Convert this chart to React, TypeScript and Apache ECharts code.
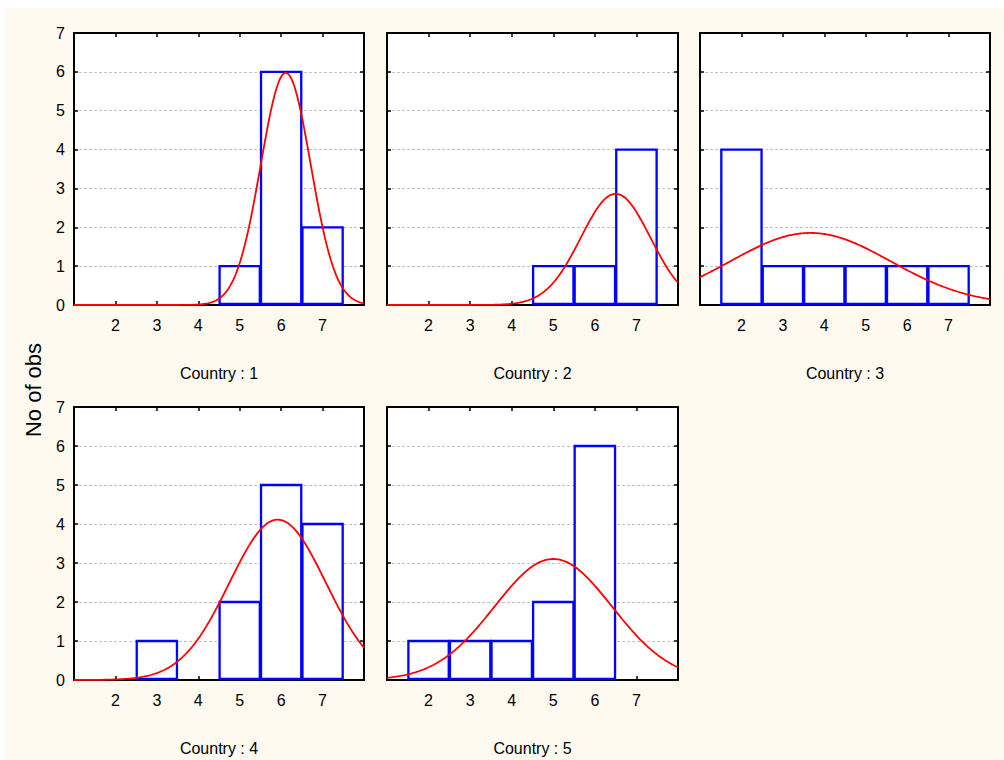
import React, { useEffect, useRef } from "react";
import * as echarts from "echarts";

// Histogram bins (class midpoints) shared by every panel
const bins = [2, 3, 4, 5, 6, 7];

// Observed counts per bin, one list per country
const country1 = [0, 0, 0, 1, 6, 2];
const country2 = [0, 0, 0, 1, 1, 4];
const country3 = [4, 1, 1, 1, 1, 1];
const country4 = [0, 1, 0, 2, 5, 4];
const country5 = [1, 1, 1, 2, 6, 0];

const panelTitles = ["Country : 1", "Country : 2", "Country : 3", "Country : 4", "Country : 5"];
const panelCounts = [country1, country2, country3, country4, country5];

const yTicks = [0, 1, 2, 3, 4, 5, 6, 7];
const xMin = 1;
const xMax = 8;

// Panel frames in pixels: [left, top, width, height]
const frames = [
  [74, 33, 290, 272],
  [387, 33, 291, 272],
  [700, 33, 290, 272],
  [74, 407, 290, 273],
  [387, 407, 291, 273],
];

// Expected frequencies of a normal fit (mean and sd taken from the binned counts)
function normalFit(counts: number[]): number[][] {
  let n = 0;
  let sum = 0;
  counts.forEach((c, i) => {
    n += c;
    sum += c * bins[i];
  });
  const mean = sum / n;
  let ss = 0;
  counts.forEach((c, i) => {
    ss += c * (bins[i] - mean) * (bins[i] - mean);
  });
  const sd = Math.sqrt(ss / (n - 1));
  const pts: number[][] = [];
  for (let k = 0; k <= 280; k++) {
    const x = xMin + (k * (xMax - xMin)) / 280;
    const z = (x - mean) / sd;
    pts.push([x, (n / (sd * Math.sqrt(2 * Math.PI))) * Math.exp(-0.5 * z * z)]);
  }
  return pts;
}

const FONT = "'Liberation Sans', Arial, sans-serif";

export default function App() {
  const ref = useRef<HTMLDivElement>(null);

  useEffect(() => {
    document.body.style.margin = "0";
    if (!ref.current) return;
    const chart = echarts.init(ref.current, undefined, { renderer: "svg" });

    const grid: any[] = [];
    const xAxis: any[] = [];
    const yAxis: any[] = [];
    const series: any[] = [];

    const lineStyle = { color: "#000", width: 2 };
    const tick = { show: true, inside: true, length: 4, lineStyle: { color: "#000", width: 1.5 } };

    frames.forEach((f, i) => {
      grid.push({ left: f[0], top: f[1], width: f[2], height: f[3], containLabel: false });
      const leftCol = i === 0 || i === 3;

      // bottom axis with labels and panel title
      xAxis.push({
        gridIndex: i,
        type: "value",
        min: xMin,
        max: xMax,
        interval: 1,
        position: "bottom",
        name: panelTitles[i],
        nameLocation: "middle",
        nameGap: 60,
        nameTextStyle: { fontFamily: FONT, fontSize: 16, color: "#000" },
        axisLine: { show: true, onZero: false, lineStyle },
        axisTick: tick,
        axisLabel: {
          show: true,
          fontFamily: FONT,
          fontSize: 16,
          color: "#000",
          margin: 12,
          showMinLabel: false,
          showMaxLabel: false,
        },
        splitLine: { show: false },
      });
      // top axis: frame edge with inward ticks
      xAxis.push({
        gridIndex: i,
        type: "value",
        min: xMin,
        max: xMax,
        interval: 1,
        position: "top",
        axisLine: { show: true, onZero: false, lineStyle },
        axisTick: tick,
        axisLabel: { show: false },
        splitLine: { show: false },
      });
      // left axis
      yAxis.push({
        gridIndex: i,
        type: "value",
        min: yTicks[0],
        max: yTicks[yTicks.length - 1],
        interval: 1,
        position: "left",
        axisLine: { show: true, onZero: false, lineStyle },
        axisTick: tick,
        axisLabel: { show: leftCol, fontFamily: FONT, fontSize: 16, color: "#000", margin: 9 },
        splitLine: { show: true, lineStyle: { color: "#c4c4c4", type: [3, 2], width: 1 } },
      });
      // right axis: frame edge with inward ticks
      yAxis.push({
        gridIndex: i,
        type: "value",
        min: yTicks[0],
        max: yTicks[yTicks.length - 1],
        interval: 1,
        position: "right",
        axisLine: { show: true, onZero: false, lineStyle },
        axisTick: tick,
        axisLabel: { show: false },
        splitLine: { show: false },
      });

      const counts = panelCounts[i];
      const barData = bins
        .map((b, k) => [b, counts[k]])
        .filter((d) => d[1] > 0);

      series.push({
        type: "custom",
        xAxisIndex: i * 2,
        yAxisIndex: i * 2,
        data: barData,
        z: 2,
        renderItem: (params: any, api: any) => {
          const x = api.value(0);
          const c = api.value(1);
          const p0 = api.coord([x - 0.5, c]);
          const p1 = api.coord([x + 0.5, 0]);
          return {
            type: "rect",
            shape: { x: p0[0] + 0.6, y: p0[1], width: p1[0] - p0[0] - 1.2, height: p1[1] - p0[1] - 1 },
            style: { fill: "#ffffff", stroke: "#0000ff", lineWidth: 2.3 },
          };
        },
      });

      series.push({
        type: "line",
        xAxisIndex: i * 2,
        yAxisIndex: i * 2,
        data: normalFit(counts),
        showSymbol: false,
        symbol: "none",
        clip: true,
        z: 3,
        lineStyle: { color: "#ff0000", width: 1.8 },
      });
    });

    chart.setOption({
      animation: false,
      backgroundColor: "#ffffff",
      graphic: [
        {
          type: "rect",
          z: -10,
          silent: true,
          shape: { x: 5, y: 8, width: 999, height: 752 },
          style: { fill: "#fefaf0" },
        },
        ...frames.map((f) => ({
          type: "rect",
          z: -9,
          silent: true,
          shape: { x: f[0], y: f[1], width: f[2], height: f[3] },
          style: { fill: "#ffffff" },
        })),
        {
          type: "text",
          x: 33,
          y: 390,
          rotation: Math.PI / 2,
          style: {
            text: "No of obs",
            fontFamily: FONT,
            fontSize: 22,
            fill: "#000",
            align: "center",
            verticalAlign: "middle",
          },
        },
      ],
      grid,
      xAxis,
      yAxis,
      series,
    });

    return () => chart.dispose();
  }, []);

  return <div ref={ref} style={{ width: 1004, height: 760 }} />;
}
